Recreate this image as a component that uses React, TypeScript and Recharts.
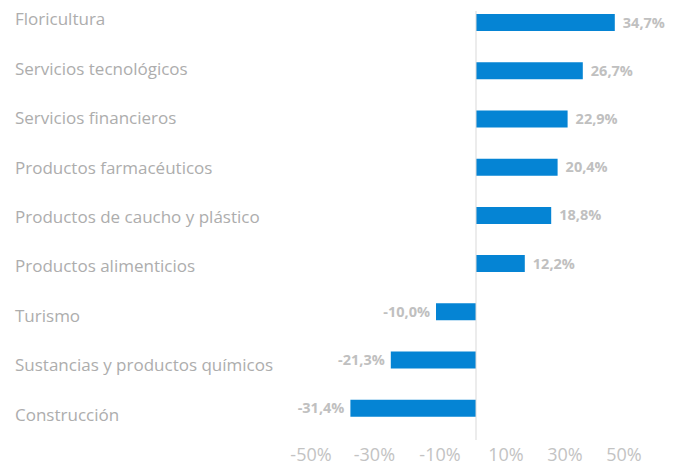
import React from 'react';
import { BarChart, Bar, XAxis, YAxis, ReferenceLine, LabelList } from 'recharts';

const categories = [
  'Floricultura',
  'Servicios tecnológicos',
  'Servicios financieros',
  'Productos farmacéuticos',
  'Productos de caucho y plástico',
  'Productos alimenticios',
  'Turismo',
  'Sustancias y productos químicos',
  'Construcción',
];
const values = [34.7, 26.7, 22.9, 20.4, 18.8, 12.2, -10.0, -21.3, -31.4];

const tickValues = [-41.25, -25.4, -9, 7.5, 22.25, 37];
const tickLabels = ['-50%', '-30%', '-10%', '10%', '30%', '50%'];

const data = categories.map((name, i) => ({ name, value: values[i] }));

const FONT = '"Open Sans", sans-serif';

const CategoryTick = (props: any) => {
  const { y, payload } = props;
  return (
    <text x={15} y={y} dy={5.5} textAnchor="start" fill="#adadad" fontSize={17} fontFamily={FONT}>
      {payload.value}
    </text>
  );
};

const ValueTick = (props: any) => {
  const { x, y, index } = props;
  return (
    <text x={x} y={y} dy={13} textAnchor="middle" fill="#c3c3c3" fontSize={18} fontFamily={FONT}>
      {tickLabels[index]}
    </text>
  );
};

const ValueLabel = (props: any) => {
  const { x, y, width, height, value } = props;
  const left = Math.min(x, x + width);
  const right = Math.max(x, x + width);
  const txt = Number(value).toFixed(1).replace('.', ',') + '%';
  const neg = value < 0;
  return (
    <text
      x={neg ? left - 6 : right + 8}
      y={y + height / 2}
      dy={5}
      textAnchor={neg ? 'end' : 'start'}
      fill="#c0c0c0"
      fontWeight="bold"
      fontSize={14.5}
      fontFamily={FONT}
    >
      {txt}
    </text>
  );
};

const ZeroLine = (props: any) => {
  const { x1, y1, x2, y2 } = props;
  const top = Math.min(y1, y2);
  const bottom = Math.max(y1, y2);
  return <line x1={x1} y1={top + 16} x2={x2} y2={bottom} stroke="#d9d9d9" strokeWidth={1} />;
};

export default function App() {
  return (
    <div style={{ position: 'absolute', left: 0, top: 0, background: '#fff' }}>
      <BarChart
        width={681}
        height={467}
        data={data}
        layout="vertical"
        margin={{ top: -5, right: 9, bottom: 0, left: 0 }}
        barCategoryGap={0}
      >
        <XAxis
          type="number"
          domain={[-45, 49]}
          allowDataOverflow
          ticks={tickValues}
          tick={<ValueTick />}
          tickLine={false}
          axisLine={false}
          height={27}
          interval={0}
        />
        <YAxis
          type="category"
          dataKey="name"
          hide
          padding={{ top: 3, bottom: 8 }}
        />
        <YAxis
          yAxisId="labels"
          type="category"
          dataKey="name"
          width={296}
          tick={<CategoryTick />}
          tickLine={false}
          axisLine={false}
          interval={0}
        />
        <Bar dataKey="value" fill="#0584d4" barSize={17} isAnimationActive={false}>
          <LabelList dataKey="value" content={<ValueLabel />} />
        </Bar>
        <ReferenceLine x={0} shape={<ZeroLine />} />
      </BarChart>
    </div>
  );
}
